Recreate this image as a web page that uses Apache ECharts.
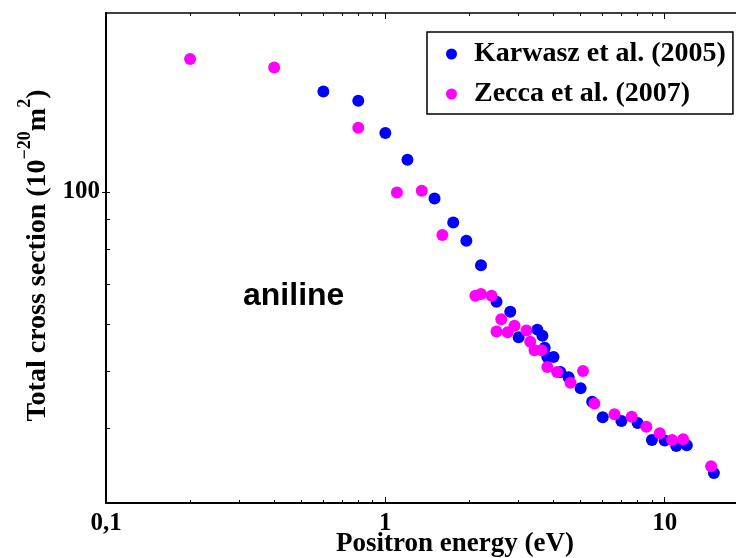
<!DOCTYPE html>
<html>
<head>
<meta charset="utf-8">
<script src="https://cdn.jsdelivr.net/npm/echarts@6/dist/echarts.min.js"></script>
<style>
    html, body { margin: 0; padding: 0; background: #fff; }
    #tcs { width: 736px; height: 558px; }
</style>
</head>
<body>
<div id="tcs"></div>
<script>
// positron - aniline total cross section

var karwaszX = [0.6, 0.8, 1.0, 1.2, 1.5, 1.75, 1.95, 2.2, 2.5, 2.8, 3.0, 3.5, 3.65, 3.72, 3.8, 4.0, 4.23, 4.53, 5.0, 5.5, 6.0, 7.0, 8.0, 9.0, 10.0, 11.0, 12.0, 15.0];
var karwaszY = [147.6, 142.4, 125.7, 113.3, 97.5, 88.9, 82.8, 75.3, 65.4, 62.9, 57.0, 58.7, 57.3, 54.7, 52.8, 52.8, 49.8, 48.8, 46.8, 44.4, 41.8, 41.2, 40.9, 38.3, 38.2, 37.4, 37.5, 33.7];

var zeccaX = [0.2, 0.4, 0.8, 1.1, 1.35, 1.6, 2.1, 2.2, 2.4, 2.5, 2.6, 2.74, 2.9, 3.2, 3.3, 3.42, 3.62, 3.8, 4.12, 4.6, 5.1, 5.6, 6.61, 7.62, 8.6, 9.6, 10.63, 11.64, 14.66];
var zeccaY = [167.3, 161.9, 128.2, 99.8, 100.5, 84.7, 66.9, 67.4, 66.9, 58.3, 61.1, 58.1, 59.6, 58.5, 56.0, 54.2, 54.2, 50.8, 49.8, 47.8, 50.0, 44.1, 42.3, 41.9, 40.3, 39.3, 38.3, 38.4, 34.6];

var xLabels = [0.1, 1, 10];
var xMinorTicks = [0.2, 0.3, 0.4, 0.5, 0.6, 0.7, 0.8, 0.9, 2, 3, 4, 5, 6, 7, 8, 9];
var yLabels = [100];
var yMinorTicks = [40, 50, 60, 70, 80, 90];

function pairs(xs, ys) {
    var out = [];
    for (var i = 0; i < xs.length; i++) {
        out.push([xs[i], ys[i]]);
    }
    return out;
}

var serif = '"Liberation Serif", "Times New Roman", serif';

var myChart = echarts.init(document.getElementById('tcs'));

var option = {
    animation: false,
    backgroundColor: '#fff',
    grid: {
        left: 106,
        right: 0,
        top: 13,
        bottom: 55,
        outerBoundsMode: 'none',
        containLabel: false
    },
    legend: {
        orient: 'vertical',
        left: 427,
        top: 32,
        padding: [8, 7, 6, 19],
        itemGap: 12,
        itemWidth: 11,
        itemHeight: 11,
        borderColor: '#000',
        borderWidth: 1.5,
        borderRadius: 0,
        selectedMode: false,
        textStyle: {
            fontFamily: serif,
            fontWeight: 'bold',
            fontSize: 28,
            color: '#000',
            padding: [0, 0, 0, 12]
        },
        data: [
            { name: 'Karwasz et al. (2005)', icon: 'circle' },
            { name: 'Zecca et al. (2007)', icon: 'circle' }
        ]
    },
    xAxis: [
        {
            type: 'log',
            logBase: 10,
            min: 0.1,
            max: 18,
            name: 'Positron energy (eV)',
            nameLocation: 'middle',
            nameGap: 28,
            nameMoveOverlap: false,
            nameTextStyle: {
                fontFamily: serif,
                fontWeight: 'bold',
                fontSize: 27,
                color: '#000',
                padding: [0, 0, 0, 68]
            },
            axisLine: { show: true, onZero: false, lineStyle: { color: '#000', width: 2 } },
            axisTick: { show: true, inside: true, length: 6, customValues: xLabels, lineStyle: { color: '#000', width: 1 } },
            axisLabel: {
                customValues: xLabels,
                margin: 8,
                fontFamily: serif,
                fontWeight: 'bold',
                fontSize: 25,
                color: '#000',
                formatter: function (v) {
                    if (v < 0.5) return '0,1';
                    return String(Math.round(v));
                }
            },
            splitLine: { show: false }
        },
        {
            type: 'log',
            logBase: 10,
            min: 0.1,
            max: 18,
            position: 'bottom',
            axisLine: { show: false },
            axisTick: { show: true, inside: true, length: 3, customValues: xMinorTicks, lineStyle: { color: '#000', width: 1 } },
            axisLabel: { show: false },
            splitLine: { show: false }
        },
        {
            type: 'log',
            logBase: 10,
            min: 0.1,
            max: 18,
            position: 'top',
            axisLine: { show: true, onZero: false, lineStyle: { color: '#000', width: 1.5 } },
            axisTick: { show: true, inside: true, length: 6, customValues: xLabels, lineStyle: { color: '#000', width: 1 } },
            axisLabel: { show: false },
            splitLine: { show: false }
        },
        {
            type: 'log',
            logBase: 10,
            min: 0.1,
            max: 18,
            position: 'top',
            axisLine: { show: false },
            axisTick: { show: true, inside: true, length: 3, customValues: xMinorTicks, lineStyle: { color: '#000', width: 1 } },
            axisLabel: { show: false },
            splitLine: { show: false }
        }
    ],
    yAxis: [
        {
            type: 'log',
            logBase: 10,
            min: 30,
            max: 200,
            name: '{t|Total cross section (10}{s|\u221220}{t|m}{s|2}{t|)}',
            nameLocation: 'middle',
            nameRotate: 90,
            nameGap: 54,
            nameMoveOverlap: false,
            nameTextStyle: {
                padding: [0, 0, 0, 5],
                rich: {
                    t: {
                        fontFamily: serif,
                        fontWeight: 'bold',
                        fontSize: 28,
                        color: '#000',
                        lineHeight: 36,
                        verticalAlign: 'bottom'
                    },
                    s: {
                        fontFamily: serif,
                        fontWeight: 'bold',
                        fontSize: 18,
                        color: '#000',
                        lineHeight: 36,
                        verticalAlign: 'top'
                    }
                }
            },
            axisLine: { show: true, onZero: false, lineStyle: { color: '#000', width: 2 } },
            axisTick: { show: true, inside: false, length: 4, customValues: yLabels, lineStyle: { color: '#000', width: 1 } },
            axisLabel: {
                customValues: yLabels,
                margin: 6,
                fontFamily: serif,
                fontWeight: 'bold',
                fontSize: 25,
                color: '#000'
            },
            splitLine: { show: false }
        },
        {
            type: 'log',
            logBase: 10,
            min: 30,
            max: 200,
            position: 'left',
            axisLine: { show: false },
            axisTick: { show: true, inside: true, length: 4, customValues: yMinorTicks.concat(yLabels), lineStyle: { color: '#000', width: 1 } },
            axisLabel: { show: false },
            splitLine: { show: false }
        }
    ],
    graphic: [
        {
            type: 'text',
            left: 243,
            top: 280,
            style: {
                text: 'aniline',
                fontFamily: '"Liberation Sans", Arial, sans-serif',
                fontWeight: 'bold',
                fontSize: 32,
                fill: '#000'
            }
        }
    ],
    series: [
        {
            name: 'Karwasz et al. (2005)',
            type: 'scatter',
            symbol: 'circle',
            symbolSize: 12,
            itemStyle: { color: '#0000ff', opacity: 1 },
            data: pairs(karwaszX, karwaszY)
        },
        {
            name: 'Zecca et al. (2007)',
            type: 'scatter',
            symbol: 'circle',
            symbolSize: 12,
            itemStyle: { color: '#ff00ff', opacity: 1 },
            data: pairs(zeccaX, zeccaY)
        }
    ]
};

myChart.setOption(option);
</script>
</body>
</html>
